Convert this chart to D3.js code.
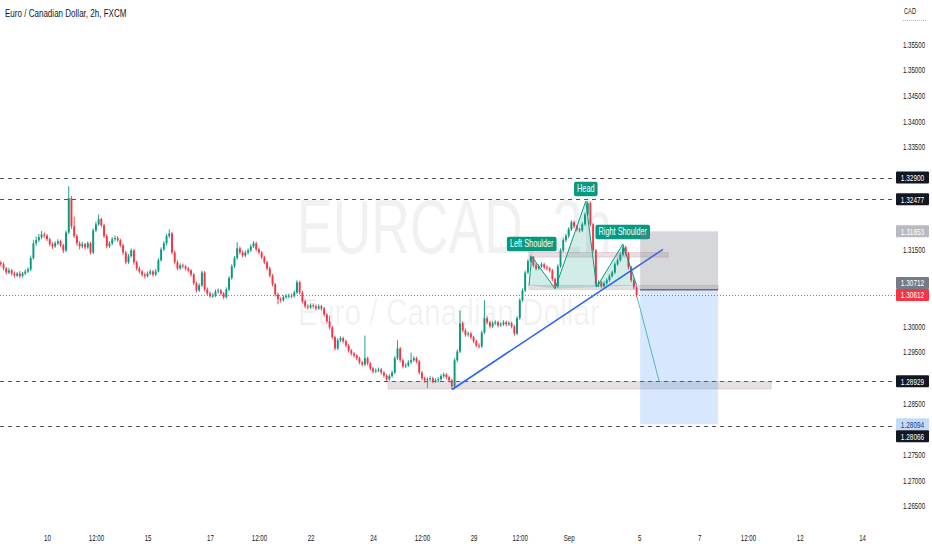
<!DOCTYPE html>
<html><head><meta charset="utf-8">
<script src="https://cdn.jsdelivr.net/npm/d3@7"></script>
<style>html,body{margin:0;padding:0;background:#fff;overflow:hidden}svg{display:block;font-family:"Liberation Sans",Arial,sans-serif}</style>
</head><body><svg id="c" width="932" height="550"></svg>
<script>
// ---------- DATA ----------
const firstOpen = 1.3124;
const closes = [
1.3121,1.3113,1.3105,1.3109,1.3103,1.3099,1.3103,1.3098,1.3103,1.3107,
1.3111,1.3133,1.3162,1.3168,1.3174,1.3179,1.3177,1.3170,1.3160,1.3156,
1.3162,1.3166,1.3158,1.3148,1.3183,1.3250,1.3195,1.3176,1.3162,1.3156,
1.3160,1.3154,1.3162,1.3144,1.3187,1.3199,1.3209,1.3197,1.3176,1.3156,
1.3162,1.3170,1.3172,1.3168,1.3158,1.3144,1.3125,1.3137,1.3148,1.3125,
1.3113,1.3107,1.3101,1.3098,1.3103,1.3107,1.3101,1.3107,1.3129,1.3150,
1.3162,1.3176,1.3181,1.3144,1.3125,1.3113,1.3119,1.3117,1.3113,1.3109,
1.3101,1.3084,1.3070,1.3080,1.3105,1.3072,1.3064,1.3059,1.3060,1.3068,
1.3070,1.3064,1.3057,1.3072,1.3094,1.3117,1.3133,1.3152,1.3144,1.3138,
1.3144,1.3148,1.3156,1.3162,1.3150,1.3144,1.3135,1.3125,1.3113,1.3099,
1.3082,1.3062,1.3053,1.3051,1.3057,1.3059,1.3060,1.3059,1.3066,1.3086,
1.3066,1.3049,1.3039,1.3037,1.3041,1.3039,1.3035,1.3039,1.3035,1.3023,
1.3010,1.2998,1.2979,1.2957,1.2973,1.2977,1.2971,1.2963,1.2953,1.2947,
1.2943,1.2938,1.2930,1.2926,1.2938,1.2928,1.2918,1.2912,1.2914,1.2916,
1.2910,1.2904,1.2897,1.2903,1.2910,1.2938,1.2957,1.2934,1.2922,1.2924,
1.2930,1.2934,1.2938,1.2932,1.2910,1.2899,1.2895,1.2897,1.2899,1.2893,
1.2895,1.2897,1.2903,1.2906,1.2901,1.2895,1.2883,1.2934,1.2951,1.3006,
1.2992,1.2984,1.2986,1.2979,1.2971,1.2963,1.2961,1.2988,1.3016,1.3008,
1.3000,1.3006,1.3008,1.3002,1.3004,1.3008,1.3004,1.3006,1.3000,1.2986,
1.3016,1.3051,1.3070,1.3105,1.3127,1.3135,1.3119,1.3113,1.3117,1.3121,
1.3115,1.3113,1.3109,1.3092,1.3078,1.3117,1.3148,1.3168,1.3176,1.3189,
1.3203,1.3195,1.3189,1.3187,1.3199,1.3218,1.3240,1.3199,1.3148,1.3082,
1.3086,1.3078,1.3084,1.3090,1.3098,1.3105,1.3121,1.3129,1.3140,1.3154,
1.3142,1.3115,1.3090,1.3076,1.30612];
const highs = [
1.3128,1.3125,1.3116,1.3114,1.3112,1.3107,1.3106,1.3108,1.3106,1.3111,
1.3115,1.3138,1.3168,1.3175,1.3180,1.3186,1.3183,1.3180,1.3173,1.3164,
1.3166,1.3170,1.3169,1.3161,1.3187,1.3273,1.3254,1.3214,1.3180,1.3166,
1.3165,1.3163,1.3166,1.3165,1.3191,1.3204,1.3218,1.3212,1.3200,1.3180,
1.3166,1.3174,1.3177,1.3176,1.3171,1.3161,1.3147,1.3141,1.3152,1.3151,
1.3128,1.3117,1.3110,1.3105,1.3107,1.3111,1.3110,1.3112,1.3133,1.3154,
1.3166,1.3180,1.3189,1.3184,1.3148,1.3129,1.3123,1.3122,1.3120,1.3116,
1.3112,1.3104,1.3087,1.3084,1.3109,1.3108,1.3076,1.3068,1.3065,1.3072,
1.3074,1.3073,1.3067,1.3076,1.3098,1.3121,1.3137,1.3164,1.3156,1.3148,
1.3148,1.3152,1.3160,1.3166,1.3165,1.3153,1.3147,1.3138,1.3128,1.3116,
1.3102,1.3085,1.3066,1.3057,1.3061,1.3063,1.3064,1.3064,1.3070,1.3090,
1.3089,1.3069,1.3052,1.3043,1.3045,1.3045,1.3043,1.3043,1.3042,1.3038,
1.3026,1.3021,1.3001,1.2982,1.2977,1.2981,1.2980,1.2974,1.2966,1.2956,
1.2950,1.2946,1.2941,1.2933,1.2982,1.2941,1.2931,1.2921,1.2918,1.2920,
1.2919,1.2913,1.2907,1.2907,1.2914,1.2942,1.2973,1.2960,1.2937,1.2928,
1.2934,1.2949,1.2942,1.2941,1.2935,1.2913,1.2902,1.2901,1.2903,1.2902,
1.2899,1.2901,1.2907,1.2910,1.2909,1.2904,1.2898,1.2938,1.2955,1.3031,
1.3010,1.2996,1.2990,1.2989,1.2982,1.2974,1.2967,1.2992,1.3051,1.3020,
1.3011,1.3010,1.3012,1.3011,1.3008,1.3012,1.3011,1.3010,1.3009,1.3003,
1.3020,1.3055,1.3074,1.3109,1.3131,1.3138,1.3137,1.3123,1.3121,1.3125,
1.3124,1.3119,1.3116,1.3112,1.3095,1.3121,1.3152,1.3172,1.3180,1.3193,
1.3207,1.3206,1.3198,1.3192,1.3203,1.3222,1.3244,1.3243,1.3202,1.3151,
1.3090,1.3089,1.3088,1.3094,1.3102,1.3109,1.3125,1.3133,1.3144,1.3160,
1.3157,1.3145,1.3118,1.3093,1.3079];
const lows = [
1.3117,1.3109,1.3101,1.3102,1.3099,1.3095,1.3096,1.3094,1.3095,1.3100,
1.3104,1.3108,1.3130,1.3157,1.3164,1.3170,1.3172,1.3166,1.3156,1.3151,
1.3153,1.3158,1.3154,1.3143,1.3145,1.3180,1.3190,1.3172,1.3157,1.3150,
1.3152,1.3150,1.3151,1.3140,1.3141,1.3184,1.3196,1.3193,1.3172,1.3152,
1.3153,1.3158,1.3166,1.3164,1.3154,1.3139,1.3121,1.3122,1.3134,1.3120,
1.3109,1.3103,1.3097,1.3093,1.3095,1.3100,1.3097,1.3098,1.3105,1.3126,
1.3147,1.3158,1.3172,1.3140,1.3121,1.3109,1.3110,1.3113,1.3109,1.3105,
1.3097,1.3080,1.3066,1.3067,1.3077,1.3068,1.3060,1.3055,1.3056,1.3057,
1.3064,1.3060,1.3053,1.3054,1.3069,1.3091,1.3114,1.3130,1.3140,1.3134,
1.3135,1.3140,1.3145,1.3153,1.3146,1.3140,1.3131,1.3121,1.3109,1.3095,
1.3078,1.3058,1.3043,1.3046,1.3048,1.3054,1.3055,1.3055,1.3056,1.3063,
1.3062,1.3045,1.3035,1.3033,1.3034,1.3035,1.3031,1.3032,1.3031,1.3019,
1.3006,1.2994,1.2975,1.2953,1.2954,1.2969,1.2967,1.2959,1.2949,1.2943,
1.2939,1.2934,1.2926,1.2922,1.2923,1.2924,1.2914,1.2908,1.2909,1.2911,
1.2906,1.2900,1.2893,1.2894,1.2900,1.2907,1.2935,1.2930,1.2918,1.2919,
1.2921,1.2927,1.2931,1.2928,1.2906,1.2895,1.2890,1.2880,1.2893,1.2889,
1.2890,1.2891,1.2894,1.2899,1.2897,1.2891,1.2877,1.2880,1.2930,1.2948,
1.2988,1.2980,1.2980,1.2975,1.2967,1.2959,1.2957,1.2958,1.2985,1.3004,
1.2996,1.2997,1.3003,1.2998,1.2999,1.3001,1.3000,1.3001,1.2996,1.2982,
1.2983,1.3013,1.3048,1.3067,1.3102,1.3124,1.3115,1.3109,1.3110,1.3114,
1.3111,1.3109,1.3105,1.3088,1.3074,1.3075,1.3114,1.3145,1.3164,1.3172,
1.3186,1.3191,1.3185,1.3183,1.3184,1.3196,1.3215,1.3195,1.3144,1.3078,
1.3077,1.3074,1.3075,1.3081,1.3087,1.3095,1.3102,1.3118,1.3126,1.3137,
1.3138,1.3111,1.3086,1.3072,1.3057];

const timeLabels = ["10","12:00","15","17","12:00","22","24","12:00","29","12:00","Sep","5","7","12:00","12","14"];
const timeLabelBars = [17,35,54,77,95,114,137,155,174,191,209,235,257,275,294,317];
const priceTicks = [1.265,1.270,1.275,1.280,1.285,1.290,1.295,1.300,1.305,1.310,1.315,1.320,1.325,1.330,1.335,1.340,1.345,1.350,1.355];
const levelLines = [1.32900,1.32477,1.28929,1.28066];
const lastPrice = 1.30612;
const shortPos = {entry:1.30712, stop:1.31853, target:1.28094, fromBar:235.3, toBar:264};
const hsPoints = [[194.4,1.3080],[195.4,1.31365],[204.0,1.30735],[215.3,1.3244],[219.3,1.30766],[228.9,1.3160],[234.0,1.3080]];
const hsLabels = [{text:"Left Shoulder",pt:1},{text:"Head",pt:3},{text:"Right Shoulder",pt:5}];
const zones = [
  {from:142.5,to:283.5,top:1.28928,bottom:1.2878},
  {from:194.3,to:245.6,top:1.3144,bottom:1.3135},
  {from:194.3,to:264,top:1.3080,bottom:1.3072}];
const trendLine = [[166.1,1.2877],[243.7,1.3150]];
const projection = [[234.2,1.3057],[242.3,1.2893]];
const titleText = "Euro / Canadian Dollar, 2h, FXCM";
const currency = "CAD";
const watermark = ["EURCAD, 2h","Euro / Canadian Dollar"];

// ---------- LAYOUT ----------
const plotW = 895, plotH = 525, SX = 0.68;
const UP = "#089981", DOWN = "#f23645", INK = "#131722";
const svg = d3.select("#c");
const x = d3.scaleLinear().domain([-0.3, 329.1]).range([0, plotW]);
const y = d3.scaleLinear().domain([1.2613, 1.3636]).range([plotH, 0]);

svg.append("rect").attr("width",932).attr("height",550).attr("fill","#fff");
svg.append("defs").append("clipPath").attr("id","clip").append("rect").attr("width",plotW).attr("height",plotH);
const plot = svg.append("g").attr("clip-path","url(#clip)");

// watermark
plot.append("text").attr("x",297).attr("y",253).attr("font-size",76)
  .attr("textLength",315).attr("lengthAdjust","spacingAndGlyphs")
  .attr("fill",INK).attr("fill-opacity",0.06).text(watermark[0]);
plot.append("text").attr("x",298).attr("y",325).attr("font-size",37)
  .attr("textLength",302).attr("lengthAdjust","spacingAndGlyphs")
  .attr("fill",INK).attr("fill-opacity",0.06).text(watermark[1]);

// level lines
plot.selectAll(".lvl").data(levelLines).join("line")
  .attr("x1",0).attr("x2",plotW).attr("y1",d=>Math.round(y(d))+0.5).attr("y2",d=>Math.round(y(d))+0.5)
  .attr("stroke","#50535e").attr("stroke-width",1).attr("stroke-dasharray","4,4");
plot.append("line").attr("x1",0).attr("x2",plotW)
  .attr("y1",Math.round(y(lastPrice))+0.5).attr("y2",Math.round(y(lastPrice))+0.5)
  .attr("stroke",DOWN).attr("stroke-width",1).attr("stroke-dasharray","1,2").attr("stroke-opacity",0.85);

// candles
const bars = closes.map((c,i)=>({i, o: i ? closes[i-1] : firstOpen, c, h: highs[i], l: lows[i]}));
const bw = 1.9;
const cg = plot.append("g");
cg.selectAll("line").data(bars).join("line")
  .attr("x1",d=>x(d.i)).attr("x2",d=>x(d.i)).attr("y1",d=>y(d.h)).attr("y2",d=>y(d.l))
  .attr("stroke",d=>d.c>=d.o?UP:DOWN).attr("stroke-width",0.9);
cg.selectAll("rect").data(bars).join("rect")
  .attr("x",d=>x(d.i)-bw/2).attr("width",bw)
  .attr("y",d=>y(Math.max(d.o,d.c))).attr("height",d=>Math.max(1,Math.abs(y(d.o)-y(d.c))))
  .attr("fill",d=>d.c>=d.o?UP:DOWN);

// zones
plot.selectAll(".zone").data(zones).join("rect")
  .attr("x",d=>x(d.from)).attr("width",d=>x(d.to)-x(d.from))
  .attr("y",d=>y(d.top)).attr("height",d=>y(d.bottom)-y(d.top))
  .attr("fill","rgba(140,135,150,0.25)").attr("stroke","rgba(242,54,69,0.18)").attr("stroke-width",1);

// head & shoulders pattern
const hsPoly = hsPoints.concat([hsPoints[4],hsPoints[2]]);
plot.append("path").attr("d",d3.line().x(d=>x(d[0])).y(d=>y(d[1]))(hsPoly)+"Z")
  .attr("fill","rgba(8,153,129,0.18)").attr("stroke","none");
plot.append("path").attr("d",d3.line().x(d=>x(d[0])).y(d=>y(d[1]))(hsPoints))
  .attr("fill","none").attr("stroke",UP).attr("stroke-width",1);

// trend line
plot.append("line").attr("x1",x(trendLine[0][0])).attr("y1",y(trendLine[0][1]))
  .attr("x2",x(trendLine[1][0])).attr("y2",y(trendLine[1][1]))
  .attr("stroke","#2962ff").attr("stroke-width",1.6);

// H&S labels
hsLabels.forEach(lb=>{
  const p = hsPoints[lb.pt];
  const cx = x(p[0]), by = y(p[1]) - 5;
  const g = plot.append("g");
  const r = g.append("rect").attr("fill",UP).attr("rx",2);
  const t = g.append("text").attr("transform",`translate(${cx},${by-4}) scale(${SX+0.02},1)`)
    .attr("text-anchor","middle").attr("font-size",10.5).attr("fill","#fff").text(lb.text);
  const w = t.node().getComputedTextLength()*(SX+0.02) + 6;
  r.attr("x",cx-w/2).attr("y",by-14.5).attr("width",w).attr("height",14.5);
});

// short position
const px0 = x(shortPos.fromBar), px1 = x(shortPos.toBar);
plot.append("rect").attr("x",px0).attr("width",px1-px0)
  .attr("y",y(shortPos.stop)).attr("height",y(shortPos.entry)-y(shortPos.stop))
  .attr("fill","rgba(120,123,134,0.3)");
plot.append("rect").attr("x",px0).attr("width",px1-px0)
  .attr("y",y(shortPos.entry)).attr("height",y(shortPos.target)-y(shortPos.entry))
  .attr("fill","rgba(33,120,243,0.18)");
plot.append("line").attr("x1",px0).attr("x2",px1).attr("y1",y(shortPos.entry)).attr("y2",y(shortPos.entry))
  .attr("stroke","#6a6d78").attr("stroke-width",1.5);

// projection
plot.append("line").attr("x1",x(projection[0][0])).attr("y1",y(projection[0][1]))
  .attr("x2",x(projection[1][0])).attr("y2",y(projection[1][1]))
  .attr("stroke","#5ab4c0").attr("stroke-width",1);

// title
svg.append("text").attr("transform",`translate(5,17) scale(0.7,1)`).attr("font-size",11.5)
  .attr("fill",INK).text(titleText);

// price labels (priority order, pushed apart)
const priceLabels = [
  {v:lastPrice, bg:DOWN, fg:"#fff"},
  {v:shortPos.target, bg:"#c4dbf8", fg:"#1e3a8a"},
  {v:shortPos.stop, bg:"#b8babf", fg:"#fff"},
  {v:shortPos.entry, bg:"#787b86", fg:"#fff"},
  {v:levelLines[0], bg:INK, fg:"#fff"},
  {v:levelLines[1], bg:INK, fg:"#fff"},
  {v:levelLines[2], bg:INK, fg:"#fff"},
  {v:levelLines[3], bg:INK, fg:"#fff"}];
const placed = [];
priceLabels.forEach(p=>{
  const want = y(p.v); let yy = want;
  for (let k=0;k<10;k++){
    const hit = placed.find(q=>Math.abs(q.yy-yy)<12);
    if(!hit) break;
    yy = want < hit.yy ? hit.yy-12 : hit.yy+12;
  }
  p.yy = yy; placed.push(p);
});

// price axis (ticks hidden where a price label box covers them)
const visibleTicks = priceTicks.filter(v=>!placed.some(p=>Math.abs(p.yy-y(v))<10.5));
const ya = svg.append("g").attr("transform","translate(914,0)")
  .call(d3.axisRight(y).tickValues(visibleTicks).tickFormat(d3.format(".5f")).tickSize(0));
ya.select(".domain").remove();
ya.selectAll("text").attr("x",0).attr("text-anchor","middle").attr("transform",`scale(${SX},1)`)
  .attr("font-size",9).attr("font-family","Liberation Sans, Arial, sans-serif").attr("fill",INK);
svg.append("text").attr("transform",`translate(910,14) scale(${SX},1)`).attr("text-anchor","middle")
  .attr("font-size",8.5).attr("fill",INK).text(currency);
svg.append("line").attr("x1",903).attr("x2",926).attr("y1",20.5).attr("y2",20.5)
  .attr("stroke","#b2b5be").attr("stroke-dasharray","1,1");

// time axis
const xa = svg.append("g").attr("transform","translate(0,532)")
  .call(d3.axisBottom(x).tickValues(timeLabelBars).tickFormat((d,i)=>timeLabels[i]).tickSize(0));
xa.select(".domain").remove();
xa.selectAll("text").attr("transform",`scale(${SX},1)`).attr("x",0)
  .attr("font-size",9).attr("font-family","Liberation Sans, Arial, sans-serif").attr("fill",INK);

const pl = svg.append("g");
placed.forEach(p=>{
  pl.append("rect").attr("x",896).attr("y",p.yy-6).attr("width",33).attr("height",12).attr("fill",p.bg).attr("rx",1);
  pl.append("text").attr("transform",`translate(912.5,${p.yy}) scale(${SX},1)`).attr("dy","0.35em")
    .attr("text-anchor","middle").attr("font-size",9.5).attr("fill",p.fg).text(d3.format(".5f")(p.v));
});
</script></body></html>
